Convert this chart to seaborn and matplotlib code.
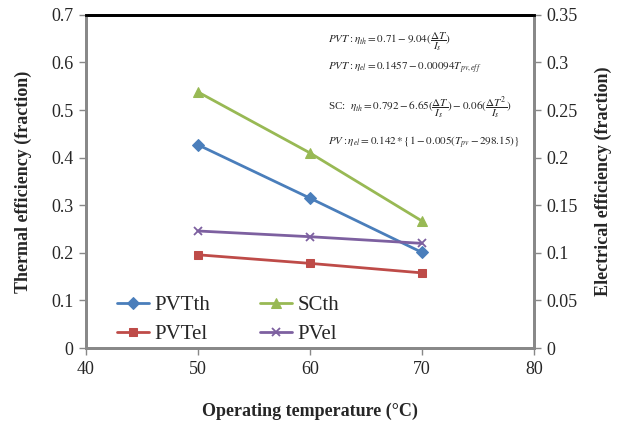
import matplotlib
matplotlib.use("Agg")
import matplotlib.pyplot as plt
import seaborn as sns
import pandas as pd

temps = [50, 60, 70]
pvt_th = [0.427, 0.315, 0.201]
sc_th = [0.538, 0.410, 0.267]
pvt_el = [0.098, 0.089, 0.079]
pv_el = [0.123, 0.117, 0.110]

x_ticks = [40, 50, 60, 70, 80]
y1_ticks = [0, 0.1, 0.2, 0.3, 0.4, 0.5, 0.6, 0.7]
y2_ticks = [0, 0.05, 0.1, 0.15, 0.2, 0.25, 0.3, 0.35]
y1_labels = ["0", "0.1", "0.2", "0.3", "0.4", "0.5", "0.6", "0.7"]
y2_labels = ["0", "0.05", "0.1", "0.15", "0.2", "0.25", "0.3", "0.35"]

sns.set_style("white")
plt.rcParams["font.family"] = ["Liberation Serif", "DejaVu Serif"]
plt.rcParams["mathtext.fontset"] = "stix"

fig = plt.figure(figsize=(6.18, 4.24), dpi=100)
ax = fig.add_axes([0.139, 0.179, 0.725, 0.786])
ax2 = ax.twinx()

c_blue = "#4A7EBB"
c_green = "#98B954"
c_red = "#BE4B48"
c_purple = "#7D60A0"

df = pd.DataFrame({"T": temps, "PVTth": pvt_th, "SCth": sc_th, "PVTel": pvt_el, "PVel": pv_el})

sns.lineplot(data=df, x="T", y="PVTth", ax=ax, color=c_blue, marker="D", markersize=6,
             markeredgecolor=c_blue, linewidth=2, label="PVTth", legend=False)
sns.lineplot(data=df, x="T", y="SCth", ax=ax, color=c_green, marker="^", markersize=7,
             markeredgecolor=c_green, linewidth=2, label="SCth", legend=False)
sns.lineplot(data=df, x="T", y="PVTel", ax=ax2, color=c_red, marker="s", markersize=6,
             markeredgecolor=c_red, linewidth=2, label="PVTel", legend=False)
sns.lineplot(data=df, x="T", y="PVel", ax=ax2, color=c_purple, marker="x", markersize=6,
             markeredgecolor=c_purple, markeredgewidth=1.3, linewidth=2, label="PVel", legend=False)

ax.set_xlim(40, 80)
ax.set_ylim(0, 0.7)
ax2.set_ylim(0, 0.35)
ax.set_xticks(x_ticks)
ax.set_xticklabels([str(v) for v in x_ticks], fontsize=13)
ax.set_yticks(y1_ticks)
ax.set_yticklabels(y1_labels, fontsize=13)
ax2.set_yticks(y2_ticks)
ax2.set_yticklabels(y2_labels, fontsize=13)

ax.set_xlabel("Operating temperature (°C)", fontsize=13, fontweight="bold", labelpad=18)
ax.set_ylabel("Thermal efficiency (fraction)", fontsize=13, fontweight="bold", labelpad=14)
ax2.set_ylabel("Electrical efficiency (fraction)", fontsize=13, fontweight="bold", labelpad=12)

gray = "#888888"
for a in (ax, ax2):
    for s in ("left", "right", "bottom"):
        a.spines[s].set_color(gray)
        a.spines[s].set_linewidth(2)
    a.spines["top"].set_color("black")
    a.spines["top"].set_linewidth(2)
ax.tick_params(axis="both", direction="out", length=5, width=1, color=gray, left=True, bottom=True, pad=4)
ax2.tick_params(axis="y", direction="out", length=5, width=1, color=gray, right=True, pad=4)

h1, l1 = ax.get_legend_handles_labels()
h2, l2 = ax2.get_legend_handles_labels()
handles = [h1[0], h1[1], h2[0], h2[1]]
labels = [l1[0], l1[1], l2[0], l2[1]]
order = [0, 2, 1, 3]
ax.legend([handles[i] for i in order], [labels[i] for i in order], ncol=2, loc="lower left",
          bbox_to_anchor=(0.027, -0.045), frameon=False, fontsize=15, handlelength=1.55,
          columnspacing=2.4, handletextpad=0.25, labelspacing=0.45)

eq_kw = dict(transform=fig.transFigure, fontsize=8, ha="left", va="center")
fig.text(328/618, 1-42/424, r"$PVT: \eta_{th} = 0.71 - 9.04(\dfrac{\Delta T}{I_s})$", **eq_kw)
fig.text(328/618, 1-68/424, r"$PVT: \eta_{el} = 0.1457 - 0.00094 T_{pv,eff}$", **eq_kw)
fig.text(328/618, 1-108/424, r"SC:  $\eta_{th} = 0.792 - 6.65(\dfrac{\Delta T}{I_s}) - 0.06(\dfrac{\Delta T^2}{I_s})$", **eq_kw)
fig.text(328/618, 1-142/424, r"$PV: \eta_{el} = 0.142 * \{1 - 0.005(T_{pv} - 298.15)\}$", **eq_kw)

fig.savefig("out.png", dpi=100)
